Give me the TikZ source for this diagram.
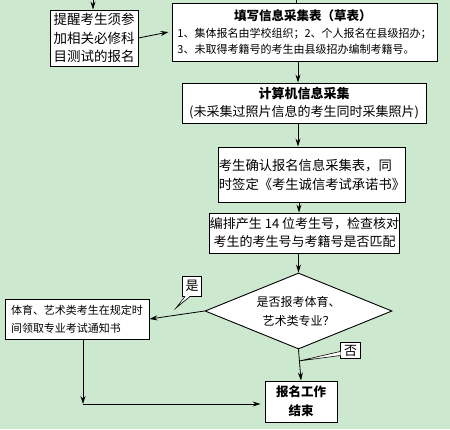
\documentclass[tikz,border=0pt]{standalone}
\usepackage{fontspec}
\setmainfont{Noto Sans CJK SC}
\usetikzlibrary{arrows.meta,shapes.geometric,calc}
\definecolor{bg}{RGB}{204,232,206}
\begin{document}
\begin{tikzpicture}[x=1pt,y=-1pt,
  every node/.style={inner sep=0pt},
  box/.style={draw=black, fill=white, line width=0.9pt, inner sep=0pt, align=center},
  lbox/.style={box, align=left},
  arr/.style={-{Stealth[length=8pt,width=5pt]}, line width=0.8pt},
  ln/.style={line width=0.8pt},
  callout/.style={draw=black, fill=white, line width=0.6pt}
]
\fill[bg] (0,0) rectangle (450,429);
\useasboundingbox (0,0) rectangle (450,429);

% boxes
\node[box, minimum width=88pt, minimum height=56pt, font=\fontsize{13.5}{18.5}\selectfont] (b1) at (94,38)
  {提醒考生须参\\加相关必修科\\目测试的报名};
\node[lbox, minimum width=265pt, minimum height=58pt, font=\fontsize{11}{16}\selectfont] (b2) at (304.5,32)
  {\makebox[251pt][c]{\fontsize{12.5}{16}\selectfont\bfseries 填写信息采集表（草表）}\\[1pt]
   1、集体报名由学校组织；2、个人报名在县级招办；\\
   3、未取得考籍号的考生由县级招办编制考籍号。};
\node[box, minimum width=244pt, minimum height=40pt, font=\fontsize{13}{18}\selectfont] (b3) at (304,103)
  {{\bfseries 计算机信息采集}\\(未采集过照片信息的考生同时采集照片)};
\node[lbox, minimum width=186pt, minimum height=55pt, font=\fontsize{13.3}{19}\selectfont] (b4) at (312,174.5)
  {考生确认报名信息采集表，同\\时签定《考生诚信考试承诺书》};
\node[box, minimum width=189pt, minimum height=40pt, font=\fontsize{13}{18}\selectfont] (b5) at (304.5,233)
  {编排产生 14 位考生号，检查核对\\考生的考生号与考籍号是否匹配};
\node[draw=black, fill=white, line width=0.9pt, shape=diamond, aspect=2.4, inner sep=0pt,
  minimum width=187pt, minimum height=76pt, align=center, font=\fontsize{12}{19}\selectfont] (d) at (298.5,311)
  {是否报考体育、\\艺术类专业？};
\node[lbox, minimum width=144pt, minimum height=40pt, font=\fontsize{11}{18}\selectfont] (b6) at (77,319)
  {体育、艺术类考生在规定时\\间领取专业考试通知书};
\node[box, minimum width=72pt, minimum height=41pt, font=\fontsize{12.5}{19}\selectfont\bfseries] (b7) at (301,401.5)
  {报名工作\\结束};

% incoming lines from above
\coordinate (t1) at (93,0);
\coordinate (t2) at (296,0);
\draw[arr] (t1) -- (b1.north -| t1);
\draw[ln] (t2) -- (b2.north -| t2);

% connectors
\draw[arr] (b1.east) -- ($(b2.west)+(-3,0)$);
\draw[arr] (b2.south -| 298,0) -- (b3.north -| 298,0);
\draw[arr] (b3.south -| 298,0) -- (b4.north -| 298,0);
\draw[arr] (b4.south -| 299,0) -- (b5.north -| 299,0);
\draw[arr] (b5.south -| 298.5,0) -- (d.north);
\draw[arr] (d.west) -- (b6.east);
\draw[arr] (d.south) -- (b7.north);
\coordinate (corner) at (83,404);
\draw[arr] (b6.south -| corner) -- (corner);
\draw[arr] (corner) -- ($(b7.west|-corner)+(-4,0)$);

% callouts
\coordinate (ytip) at (176,308);
\node[callout, minimum width=19pt, minimum height=20pt, font=\fontsize{13}{14}\selectfont] (yes) at (192,286) {是};
\fill[white] ($(yes.south west)+(3,-0.3)$) -- (ytip) -- ($(yes.south west)+(8,-0.3)$) -- cycle;
\draw[line width=0.6pt] ($(yes.south west)+(3,0)$) -- (ytip) -- ($(yes.south west)+(8,0)$);

\coordinate (ntip) at (299,361);
\node[callout, minimum width=20pt, minimum height=16pt, font=\fontsize{13}{14}\selectfont] (no) at (350.5,350.5) {否};
\fill[white] ($(no.west)+(0.3,1)$) -- (ntip) -- ($(no.west)+(0.3,5)$) -- cycle;
\draw[line width=0.6pt] ($(no.west)+(0,1)$) -- (ntip) -- ($(no.west)+(0,5)$);
\end{tikzpicture}
\end{document}
